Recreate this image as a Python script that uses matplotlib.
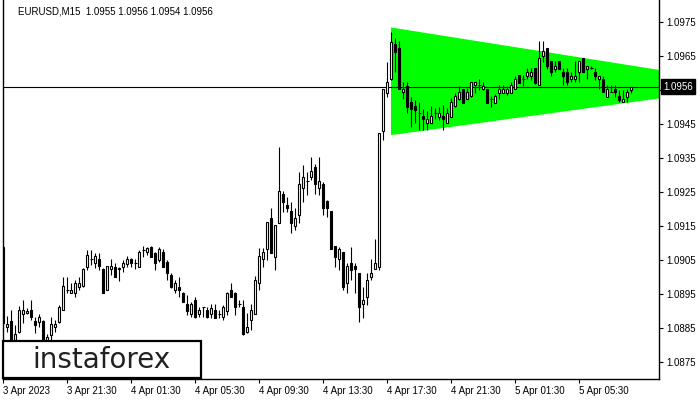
import matplotlib
matplotlib.use("Agg")
import numpy as np
import matplotlib.pyplot as plt
from matplotlib.patches import Rectangle, Polygon
import matplotlib.transforms as mtransforms

plt.rcParams['font.family'] = ['Liberation Sans', 'DejaVu Sans']

# EURUSD M15 candles (bar 0 = 3 Apr 17:30)
opens = [
    1.09088, 1.08852, 1.08870, 1.08814, 1.08838, 1.08890, 1.08894, 1.08902, 1.08870, 1.08868,
    1.08870, 1.08805, 1.08829, 1.08851, 1.08868, 1.08902, 1.08961, 1.08951, 1.08951, 1.08971,
    1.08973, 1.09030, 1.09051, 1.09040, 1.09051, 1.09022, 1.08961, 1.09022, 1.09030, 1.09026,
    1.09030, 1.09037, 1.09052, 1.09040, 1.09030, 1.09079, 1.09074, 1.09088, 1.09071, 1.09049,
    1.09074, 1.09044, 1.09005, 1.08961, 1.08971, 1.08951, 1.08919, 1.08889, 1.08932, 1.08890,
    1.08910, 1.08902, 1.08889, 1.08902, 1.08889, 1.08882, 1.08900, 1.08961, 1.08951, 1.08920,
    1.08910, 1.08838, 1.08873, 1.08889, 1.08981, 1.09051, 1.09081, 1.09172, 1.09059, 1.09159,
    1.09244, 1.09211, 1.09194, 1.09150, 1.09182, 1.09260, 1.09282, 1.09293, 1.09322, 1.09260,
    1.09273, 1.09223, 1.09194, 1.09091, 1.09051, 1.09074, 1.08981, 1.09040, 1.09032, 1.09010,
    1.08920, 1.08941, 1.09000, 1.09022, 1.09030, 1.09430, 1.09542, 1.09581, 1.09684, 1.09673,
    1.09543, 1.09562, 1.09515, 1.09503, 1.09481, 1.09473, 1.09452, 1.09452, 1.09481, 1.09471,
    1.09473, 1.09452, 1.09471, 1.09503, 1.09522, 1.09552, 1.09522, 1.09532, 1.09565, 1.09565,
    1.09552, 1.09552, 1.09523, 1.09512, 1.09542, 1.09542, 1.09542, 1.09542, 1.09552, 1.09594,
    1.09581, 1.09592, 1.09592, 1.09614, 1.09565, 1.09651, 1.09673, 1.09635, 1.09612, 1.09635,
    1.09602, 1.09604, 1.09582, 1.09582, 1.09602, 1.09643, 1.09612, 1.09614, 1.09602, 1.09582,
    1.09582, 1.09530, 1.09545, 1.09553, 1.09533, 1.09514, 1.09530, 1.09550,
]
highs = [
    1.09093, 1.08884, 1.08902, 1.08858, 1.08915, 1.08932, 1.08908, 1.08932, 1.08882, 1.08890,
    1.08873, 1.08831, 1.08882, 1.08873, 1.08917, 1.09000, 1.09000, 1.08983, 1.08990, 1.09000,
    1.09025, 1.09079, 1.09079, 1.09069, 1.09069, 1.09025, 1.09032, 1.09052, 1.09040, 1.09030,
    1.09049, 1.09062, 1.09054, 1.09052, 1.09079, 1.09091, 1.09088, 1.09091, 1.09074, 1.09088,
    1.09082, 1.09049, 1.09010, 1.08990, 1.09000, 1.08956, 1.08946, 1.08927, 1.08941, 1.08912,
    1.08912, 1.08912, 1.08919, 1.08919, 1.08902, 1.08917, 1.08956, 1.08981, 1.08956, 1.08932,
    1.08932, 1.08892, 1.08920, 1.09002, 1.09084, 1.09084, 1.09162, 1.09202, 1.09152, 1.09383,
    1.09253, 1.09236, 1.09221, 1.09202, 1.09309, 1.09329, 1.09309, 1.09352, 1.09332, 1.09353,
    1.09280, 1.09226, 1.09194, 1.09091, 1.09088, 1.09074, 1.09040, 1.09088, 1.09040, 1.09010,
    1.08971, 1.09010, 1.09051, 1.09110, 1.09422, 1.09552, 1.09633, 1.09721, 1.09703, 1.09695,
    1.09574, 1.09572, 1.09530, 1.09520, 1.09515, 1.09493, 1.09489, 1.09503, 1.09496, 1.09499,
    1.09506, 1.09496, 1.09525, 1.09542, 1.09562, 1.09552, 1.09555, 1.09574, 1.09572, 1.09582,
    1.09572, 1.09552, 1.09532, 1.09538, 1.09565, 1.09565, 1.09562, 1.09574, 1.09592, 1.09594,
    1.09594, 1.09614, 1.09614, 1.09614, 1.09694, 1.09694, 1.09673, 1.09635, 1.09635, 1.09635,
    1.09614, 1.09614, 1.09602, 1.09635, 1.09635, 1.09643, 1.09621, 1.09621, 1.09614, 1.09592,
    1.09592, 1.09565, 1.09565, 1.09565, 1.09550, 1.09550, 1.09553, 1.09560,
]
lows = [
    1.08855, 1.08837, 1.08784, 1.08799, 1.08834, 1.08864, 1.08890, 1.08873, 1.08834, 1.08853,
    1.08784, 1.08796, 1.08814, 1.08838, 1.08863, 1.08902, 1.08952, 1.08951, 1.08940, 1.08961,
    1.08971, 1.09020, 1.09035, 1.09025, 1.09020, 1.08951, 1.08961, 1.09005, 1.09000, 1.08988,
    1.09015, 1.09030, 1.09030, 1.09022, 1.09030, 1.09059, 1.09064, 1.09059, 1.09020, 1.09044,
    1.09030, 1.08990, 1.08966, 1.08951, 1.08941, 1.08927, 1.08887, 1.08882, 1.08879, 1.08882,
    1.08882, 1.08879, 1.08879, 1.08879, 1.08878, 1.08873, 1.08887, 1.08940, 1.08887, 1.08912,
    1.08829, 1.08834, 1.08843, 1.08889, 1.08961, 1.09030, 1.09049, 1.09069, 1.09020, 1.09159,
    1.09192, 1.09192, 1.09130, 1.09138, 1.09157, 1.09221, 1.09241, 1.09285, 1.09243, 1.09241,
    1.09182, 1.09177, 1.09081, 1.09030, 1.09020, 1.08961, 1.08951, 1.08990, 1.08951, 1.08868,
    1.08878, 1.08917, 1.08990, 1.09022, 1.09020, 1.09403, 1.09530, 1.09579, 1.09604, 1.09552,
    1.09522, 1.09481, 1.09442, 1.09452, 1.09432, 1.09432, 1.09432, 1.09452, 1.09464, 1.09461,
    1.09432, 1.09452, 1.09471, 1.09501, 1.09520, 1.09512, 1.09522, 1.09530, 1.09542, 1.09550,
    1.09550, 1.09512, 1.09501, 1.09512, 1.09523, 1.09542, 1.09535, 1.09542, 1.09552, 1.09571,
    1.09562, 1.09582, 1.09579, 1.09567, 1.09565, 1.09633, 1.09612, 1.09592, 1.09602, 1.09612,
    1.09565, 1.09565, 1.09574, 1.09574, 1.09574, 1.09602, 1.09582, 1.09612, 1.09579, 1.09553,
    1.09543, 1.09530, 1.09543, 1.09530, 1.09515, 1.09514, 1.09515, 1.09540,
]
closes = [
    1.08864, 1.08861, 1.08799, 1.08831, 1.08902, 1.08902, 1.08899, 1.08881, 1.08858, 1.08881,
    1.08799, 1.08823, 1.08860, 1.08861, 1.08912, 1.08973, 1.08961, 1.08961, 1.08982, 1.08983,
    1.09022, 1.09064, 1.09051, 1.09061, 1.09032, 1.08951, 1.09032, 1.09032, 1.09000, 1.09023,
    1.09040, 1.09052, 1.09040, 1.09040, 1.09072, 1.09079, 1.09084, 1.09059, 1.09040, 1.09082,
    1.09030, 1.09010, 1.08971, 1.08981, 1.08961, 1.08927, 1.08899, 1.08919, 1.08882, 1.08902,
    1.08910, 1.08882, 1.08909, 1.08879, 1.08889, 1.08912, 1.08951, 1.08940, 1.08910, 1.08920,
    1.08831, 1.08853, 1.08902, 1.08990, 1.09061, 1.09072, 1.09160, 1.09071, 1.09152, 1.09252,
    1.09221, 1.09202, 1.09159, 1.09172, 1.09273, 1.09293, 1.09282, 1.09311, 1.09272, 1.09282,
    1.09202, 1.09202, 1.09081, 1.09059, 1.09081, 1.08971, 1.09032, 1.09020, 1.09022, 1.08910,
    1.08932, 1.08990, 1.09010, 1.09040, 1.09422, 1.09552, 1.09572, 1.09692, 1.09663, 1.09552,
    1.09553, 1.09501, 1.09493, 1.09491, 1.09481, 1.09464, 1.09464, 1.09473, 1.09481, 1.09481,
    1.09464, 1.09481, 1.09515, 1.09532, 1.09543, 1.09512, 1.09543, 1.09572, 1.09572, 1.09565,
    1.09562, 1.09512, 1.09523, 1.09532, 1.09553, 1.09553, 1.09553, 1.09565, 1.09582, 1.09571,
    1.09581, 1.09602, 1.09602, 1.09571, 1.09643, 1.09665, 1.09621, 1.09602, 1.09621, 1.09612,
    1.09592, 1.09572, 1.09592, 1.09592, 1.09635, 1.09602, 1.09621, 1.09614, 1.09592, 1.09592,
    1.09543, 1.09553, 1.09545, 1.09543, 1.09520, 1.09523, 1.09543, 1.09560,
]

time_labels = ['3 Apr 2023', '3 Apr 21:30', '4 Apr 01:30', '4 Apr 05:30', '4 Apr 09:30',
               '4 Apr 13:30', '4 Apr 17:30', '4 Apr 21:30', '5 Apr 01:30', '5 Apr 05:30']
label_bars = [0, 16, 32, 48, 64, 80, 96, 112, 128, 144]
price_ticks = [1.0875, 1.0885, 1.0895, 1.0905, 1.0915, 1.0925, 1.0935, 1.0945,
               1.0955, 1.0965, 1.0975]
last_price = 1.0956
header = 'EURUSD,M15  1.0955 1.0956 1.0954 1.0956'

# symmetrical triangle (edges given at its left start and the chart's right edge)
tri_x = [96.9, 163.9]
tri_top = [1.09734, 1.09609]
tri_bottom = [1.09417, 1.09525]

W, H = 700, 400
fig = plt.figure(figsize=(W / 100, H / 100), dpi=100)
ax = fig.add_axes([3 / W, 21 / H, 656 / W, 379 / H])
ax.set_xlim(-0.075, 163.9)
ax.set_ylim(1.086991, 1.098148)

# triangle pattern
tri = Polygon([(tri_x[0], tri_top[0]), (tri_x[1], tri_top[1]),
               (tri_x[1], tri_bottom[1]), (tri_x[0], tri_bottom[0])],
              closed=True, facecolor='#00ff00', edgecolor='none', zorder=1)
ax.add_patch(tri)

ax.axhline(last_price, color='black', linewidth=0.8, zorder=2)

# candles
o = np.array(opens)
h = np.array(highs)
l = np.array(lows)
c = np.array(closes)
x = np.arange(len(o))
ax.vlines(x, l, h, color='black', linewidth=0.8, zorder=3)
up = c > o
down = c < o
flat = c == o
ax.bar(x[up], (c - o)[up], bottom=o[up], width=0.55, color='white',
       edgecolor='black', linewidth=0.8, zorder=4)
ax.bar(x[down], (o - c)[down], bottom=c[down], width=0.55, color='black',
       edgecolor='black', linewidth=0.8, zorder=4)
ax.hlines(o[flat], x[flat] - 0.35, x[flat] + 0.35, color='black', linewidth=0.8, zorder=4)

# axes styling
for side in ['left', 'right', 'bottom']:
    ax.spines[side].set_color('black')
    ax.spines[side].set_linewidth(1.0)
ax.spines['top'].set_visible(False)

ax.yaxis.tick_right()
ax.set_yticks(price_ticks)
ax.set_yticklabels([f'{p:.4f}' for p in price_ticks])
ax.tick_params(axis='y', direction='out', length=3, width=0.8, labelsize=7, pad=2)

ax.set_xticks(label_bars)
ax.set_xticklabels(time_labels)
for lab in ax.get_xticklabels():
    lab.set_horizontalalignment('left')
ax.tick_params(axis='x', direction='out', length=3, width=0.8, labelsize=7, pad=2)

# current price marker on the scale
trans = mtransforms.blended_transform_factory(ax.transAxes, ax.transData)
ax.text(1.006, last_price, f'{last_price:.4f}', transform=trans, ha='left', va='center',
        fontsize=7, color='white', clip_on=False, zorder=10,
        bbox=dict(boxstyle='square,pad=0.25', facecolor='black', edgecolor='black'))

fig.text(18 / W, 1 - 11 / H, header, fontsize=7, va='center', ha='left')

# watermark box
logo = Rectangle((3 / W, 1 - 378 / H), 198 / W, 37 / H, transform=fig.transFigure,
                 facecolor='white', edgecolor='black', linewidth=1.6, zorder=5)
fig.add_artist(logo)
fig.text(101 / W, 1 - 360 / H, 'instaforex', fontsize=20, color='#222222',
         family='DejaVu Sans', ha='center', va='center', zorder=6)

fig.savefig('out.png', dpi=100)
